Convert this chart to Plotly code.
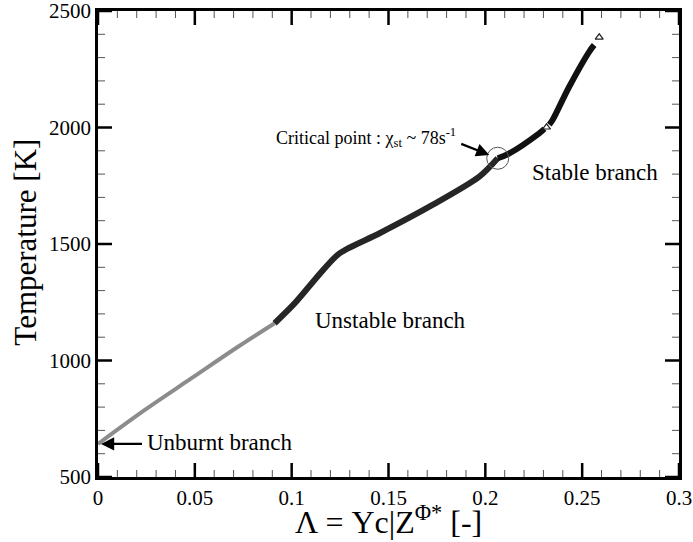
import plotly.graph_objects as go

# Read-off data (Lambda, Temperature)
lam_unburnt = [0.0, 0.0242, 0.0483, 0.0723, 0.0912]
T_unburnt = [642, 788, 924, 1059, 1160]

lam_unstable = [0.0912, 0.1015, 0.1162, 0.1247, 0.1454, 0.1711, 0.1969, 0.2064]
T_unstable = [1160, 1245, 1388, 1460, 1546, 1660, 1789, 1868]

lam_stable1 = [0.2064, 0.2124, 0.2278, 0.2305]
T_stable1 = [1868, 1889, 1975, 1994]

lam_stable2 = [0.2330, 0.2347, 0.2433, 0.2536, 0.2562]
T_stable2 = [2012, 2032, 2175, 2325, 2354]

lam_open = [0.2316, 0.2588]
T_open = [2001, 2387]

crit_lam, crit_T = 0.2064, 1868

X_RANGE = [0, 0.3]
Y_RANGE = [500, 2500]

# tick positions (axis values)
x_major = [0, 0.05, 0.1, 0.15, 0.2, 0.25, 0.3]
x_minor = [0.01, 0.02, 0.03, 0.04, 0.06, 0.07, 0.08, 0.09, 0.11, 0.12, 0.13, 0.14,
           0.16, 0.17, 0.18, 0.19, 0.21, 0.22, 0.23, 0.24, 0.26, 0.27, 0.28, 0.29]
y_major = [500, 1000, 1500, 2000, 2500]
y_minor = [600, 700, 800, 900, 1100, 1200, 1300, 1400, 1600, 1700, 1800, 1900,
           2100, 2200, 2300, 2400]

FONT = "Liberation Serif"

fig = go.Figure()
fig.add_trace(go.Scatter(x=lam_unburnt, y=T_unburnt, mode="lines",
                         line=dict(color="#8c8c8c", width=4, shape="spline"),
                         showlegend=False))
fig.add_trace(go.Scatter(x=lam_unstable, y=T_unstable, mode="lines",
                         line=dict(color="#262626", width=6, shape="spline", smoothing=0.8),
                         showlegend=False))
fig.add_trace(go.Scatter(x=lam_stable1, y=T_stable1, mode="lines",
                         line=dict(color="#111111", width=6, shape="spline"),
                         showlegend=False))
fig.add_trace(go.Scatter(x=lam_stable2, y=T_stable2, mode="lines",
                         line=dict(color="#111111", width=6, shape="spline"),
                         showlegend=False))
fig.add_trace(go.Scatter(x=lam_open, y=T_open, mode="markers",
                         marker=dict(symbol="triangle-up-open", size=7,
                                     color="#222", line=dict(width=1.2)),
                         showlegend=False))


def tick_trace(xs, ys, symbol, size, width, color):
    return go.Scatter(x=xs, y=ys, mode="markers", cliponaxis=True,
                      hoverinfo="skip", showlegend=False,
                      marker=dict(symbol=symbol, size=size, color=color,
                                  line=dict(width=width, color=color)))


# inside tick marks on all four sides (half of each marker is clipped away)
for yv in Y_RANGE:
    fig.add_trace(tick_trace(x_major, [yv] * len(x_major), "line-ns", 20, 2.5, "black"))
    fig.add_trace(tick_trace(x_minor, [yv] * len(x_minor), "line-ns", 10, 1, "#555"))
for xv in X_RANGE:
    fig.add_trace(tick_trace([xv] * len(y_major), y_major, "line-ew", 20, 2.5, "black"))
    fig.add_trace(tick_trace([xv] * len(y_minor), y_minor, "line-ew", 10, 1, "#555"))

# circle around the critical point
fig.add_shape(type="circle", xref="x", yref="y",
              xsizemode="pixel", ysizemode="pixel",
              xanchor=crit_lam, yanchor=crit_T,
              x0=-11, x1=11, y0=-11, y1=11,
              fillcolor="rgba(0,0,0,0)",
              line=dict(color="#555", width=1))

fig.add_annotation(x=crit_lam, y=crit_T, xref="x", yref="y",
                   ax=-38, ay=-15, axref="pixel", ayref="pixel",
                   showarrow=True, arrowhead=2, arrowsize=1.2, arrowwidth=2.2,
                   arrowcolor="black", standoff=9, text="")
fig.add_annotation(x=0.1858, y=1958, xref="x", yref="y", showarrow=False,
                   xanchor="right", yanchor="middle",
                   text="Critical point : χ<sub>st</sub> ~ 78s<sup>-1</sup>",
                   font=dict(family=FONT, size=18, color="black"))

fig.add_annotation(x=0.2565, y=1808, xref="x", yref="y", showarrow=False,
                   text="Stable branch", font=dict(family=FONT, size=23, color="black"))
fig.add_annotation(x=0.151, y=1170, xref="x", yref="y", showarrow=False,
                   text="Unstable branch", font=dict(family=FONT, size=23, color="black"))
fig.add_annotation(x=0.0, y=642, xref="x", yref="y",
                   ax=0.0235, ay=642, axref="x", ayref="y",
                   showarrow=True, arrowhead=2, arrowsize=1.2, arrowwidth=2.2,
                   arrowcolor="black", standoff=3, text="")
fig.add_annotation(x=0.0245, y=650, xref="x", yref="y", showarrow=False,
                   xanchor="left", text="Unburnt branch",
                   font=dict(family=FONT, size=23, color="black"))

# axis titles as paper annotations for exact placement
fig.add_annotation(x=-0.124, y=0.505, xref="paper", yref="paper", showarrow=False,
                   xanchor="center", yanchor="middle",
                   text="Temperature [K]", textangle=-90,
                   font=dict(family=FONT, size=31, color="black"))
fig.add_annotation(x=0.5, y=-0.092, xref="paper", yref="paper", showarrow=False,
                   xanchor="center", yanchor="middle",
                   text="Λ = Yc|Z<sup>Φ*</sup> [-]",
                   font=dict(family=FONT, size=32, color="black"))

tickfont = dict(family=FONT, size=21, color="black")

fig.update_xaxes(range=X_RANGE, tickvals=x_major, ticktext=["0", "0.05", "0.1", "0.15", "0.2", "0.25", "0.3"],
                 showgrid=False, zeroline=False,
                 showline=True, linecolor="black", linewidth=2.5, mirror=True,
                 ticks="", automargin=False, tickfont=tickfont)
fig.update_yaxes(range=Y_RANGE, tickvals=y_major,
                 showgrid=False, zeroline=False,
                 showline=True, linecolor="black", linewidth=2.5, mirror=True,
                 ticks="", automargin=False, ticklabeloverflow="allow", tickfont=tickfont)

fig.update_layout(
    width=693, height=542,
    margin=dict(l=98, r=14, t=11, b=65),
    paper_bgcolor="white", plot_bgcolor="white",
)

fig.write_html("out.html", config={"displayModeBar": False},
               post_script="document.body.style.margin='0';document.body.style.overflow='hidden';")
